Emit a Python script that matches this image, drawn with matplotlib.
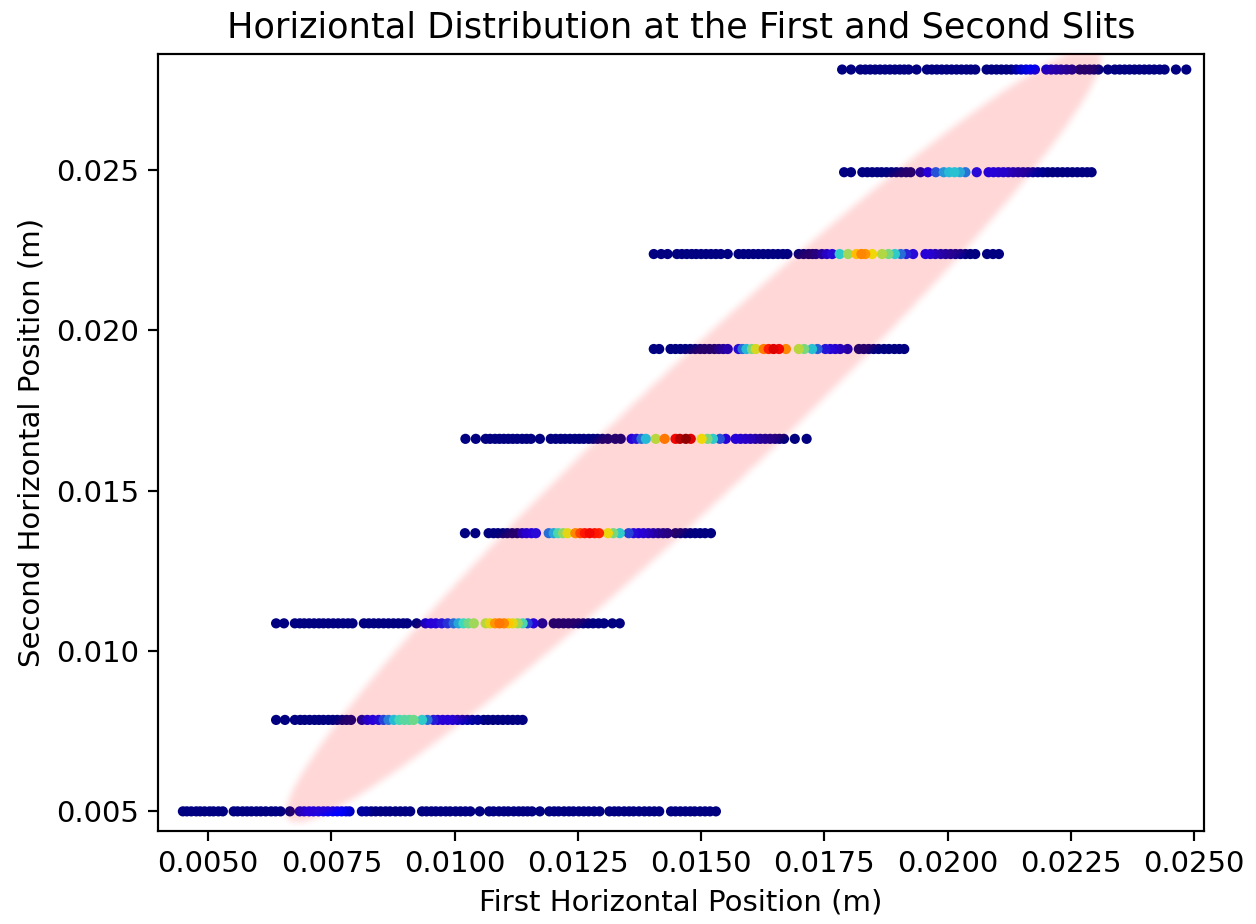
import numpy as np
import matplotlib.pyplot as plt
from matplotlib.ticker import FormatStrFormatter

# second-slit positions (m), one row of samples per position
row_y = [0.00500, 0.00785, 0.01086, 0.01367, 0.01661, 0.01941, 0.02237, 0.02492, 0.02812]

# first-slit positions (mm) of samples with ~zero weight
navy_x = [
    [4.49, 4.57, 4.66, 4.76, 4.84, 4.93, 5.03, 5.11, 5.21, 5.30,
     5.52, 5.60, 5.70, 5.79, 5.88, 5.98, 6.07, 6.17, 6.28, 6.37, 6.47, 6.66,
     8.31, 8.40, 8.50, 8.60, 8.69, 8.80, 8.90, 9.00, 9.10,
     9.34, 9.43, 9.53, 9.62, 9.72, 9.82, 9.91, 10.02, 10.12, 10.22, 10.32,
     10.51, 10.70, 10.79, 10.90, 11.00, 11.09, 11.20, 11.30, 11.39, 11.48, 11.57, 11.73,
     11.92, 12.02, 12.11, 12.22, 12.32, 12.41, 12.52, 12.62, 12.72, 12.83, 12.94,
     13.14, 13.24, 13.33, 13.44, 13.54, 13.63, 13.74, 13.85, 13.95, 14.05, 14.15,
     14.39, 14.48, 14.58, 14.68, 14.78, 14.87, 14.98, 15.08, 15.18, 15.30],
    [6.38, 6.56, 6.76, 6.87, 6.96, 7.06, 7.16, 7.25, 7.34, 7.44, 7.53, 7.62, 7.72, 7.81, 7.90,
     10.59, 10.68, 10.78, 10.88, 10.98, 11.08, 11.18, 11.28, 11.38],
    [6.38, 6.54, 6.76, 6.86, 6.95, 7.05, 7.15, 7.25, 7.34, 7.44, 7.54, 7.64, 7.74, 7.84, 7.93,
     8.16, 8.26, 8.36, 8.46, 8.56, 8.66, 8.76, 8.86, 8.96, 9.04, 9.23,
     12.01, 12.11, 12.21, 12.31, 12.41, 12.51, 12.61, 12.71, 12.81, 12.92, 13.03, 13.20, 13.35],
    [10.21, 10.42, 10.69, 10.79, 10.88, 10.98, 11.07, 11.17, 11.27,
     14.48, 14.58, 14.68, 14.78, 14.88, 14.98, 15.08, 15.20],
    [10.22, 10.43, 10.63, 10.72, 10.82, 10.91, 11.00, 11.09, 11.18, 11.27, 11.37, 11.46, 11.55, 11.73,
     11.95, 12.05, 12.15, 12.24, 12.34, 12.44, 12.53, 12.62, 12.72, 12.81, 12.90, 13.00, 13.11,
     13.26, 13.37, 16.59, 16.68, 16.90, 17.14],
    [14.04, 14.15, 14.38, 14.48, 14.58, 14.68, 14.78, 14.88, 14.98, 15.07, 15.17, 15.27,
     18.20, 18.30, 18.40, 18.50, 18.60, 18.71, 18.81, 18.92, 19.02, 19.12],
    [14.04, 14.19, 14.32, 14.51, 14.61, 14.71, 14.81, 14.90, 15.00, 15.10, 15.20, 15.30, 15.40, 15.54,
     15.76, 15.86, 15.96, 16.06, 16.16, 16.26, 16.36, 16.46, 16.56, 16.66, 16.75,
     16.98, 17.08, 17.18, 17.26, 20.36, 20.46, 20.56, 20.80, 20.92, 21.04],
    [17.90, 18.04, 18.27, 18.37, 18.47, 18.57, 18.66, 18.76, 18.86, 18.96, 19.06, 19.16, 19.25,
     22.03, 22.13, 22.23, 22.33, 22.43, 22.53, 22.63, 22.73, 22.83, 22.92],
    [17.86, 18.04, 18.23, 18.33, 18.43, 18.53, 18.63, 18.73, 18.83, 18.93, 19.03, 19.12, 19.21, 19.37,
     19.58, 19.68, 19.78, 19.88, 19.98, 20.08, 20.18, 20.28, 20.38, 20.47, 20.56,
     20.79, 20.89, 20.99, 21.09, 21.19, 21.29,
     22.68, 22.78, 22.88, 22.97, 23.06, 23.25,
     23.39, 23.49, 23.59, 23.69, 23.79, 23.89, 23.99, 24.09, 24.19, 24.30, 24.40, 24.63, 24.84],
]

# first-slit positions (mm) and normalised weights of the brighter samples
hot_x = [
    [6.86, 6.95, 7.05, 7.14, 7.24, 7.34, 7.43, 7.53, 7.62, 7.71, 7.80, 7.87, 8.12, 8.21],
    [8.12, 8.23, 8.34, 8.46, 8.56, 8.66, 8.77, 8.88, 8.98, 9.08, 9.17, 9.34, 9.45,
     9.57, 9.66, 9.76, 9.86, 9.96, 10.06, 10.16, 10.26, 10.36, 10.47],
    [9.41, 9.52, 9.62, 9.74, 9.86, 9.98, 10.08, 10.18, 10.28, 10.39,
     10.63, 10.72, 10.82, 10.91, 11.00, 11.09, 11.18, 11.28, 11.38, 11.48, 11.60, 11.78],
    [11.37, 11.46, 11.56, 11.65, 11.91, 12.01, 12.10, 12.20, 12.29,
     12.45, 12.55, 12.64, 12.74, 12.84, 12.93, 13.11, 13.22, 13.35,
     13.53, 13.63, 13.73, 13.83, 13.93, 14.03, 14.13, 14.23, 14.32],
    [13.59, 13.69, 13.79, 13.88, 14.08, 14.26, 14.48, 14.57, 14.69, 14.79,
     15.01, 15.13, 15.24, 15.38, 15.50, 15.70, 15.80, 15.90, 16.00, 16.10, 16.20, 16.30, 16.40, 16.50],
    [15.36, 15.45, 15.54, 15.76, 15.84, 15.92, 16.03, 16.11, 16.27, 16.37, 16.47, 16.58, 16.72,
     16.98, 17.09, 17.25, 17.36, 17.52, 17.62, 17.72, 17.82, 17.97],
    [17.33, 17.45, 17.55, 17.66, 17.81, 17.98, 18.15, 18.25, 18.33, 18.47, 18.67, 18.80,
     18.93, 19.05, 19.16, 19.30, 19.55, 19.65, 19.75, 19.86, 19.96, 20.06, 20.16, 20.26],
    [19.45, 19.60, 19.76, 19.92, 20.03, 20.14, 20.25, 20.36, 20.59, 20.83, 20.93,
     21.03, 21.13, 21.23, 21.33, 21.43, 21.53, 21.63, 21.73, 21.83, 21.93],
    [21.39, 21.49, 21.59, 21.68, 21.77, 22.00, 22.10, 22.20, 22.30, 22.41, 22.52],
]
hot_w = [
    [0.07, 0.09, 0.11, 0.12, 0.13, 0.13, 0.13, 0.12, 0.12, 0.10, 0.08, 0.06, 0.03, 0.02],
    [0.04, 0.09, 0.12, 0.14, 0.20, 0.27, 0.34, 0.39, 0.42, 0.42, 0.45, 0.36, 0.26,
     0.16, 0.13, 0.12, 0.11, 0.10, 0.08, 0.06, 0.04, 0.03, 0.02],
    [0.08, 0.11, 0.13, 0.15, 0.18, 0.25, 0.32, 0.38, 0.45, 0.52,
     0.56, 0.62, 0.72, 0.76, 0.74, 0.66, 0.62, 0.52, 0.40, 0.20, 0.13, 0.04],
    [0.07, 0.10, 0.12, 0.14, 0.25, 0.32, 0.40, 0.50, 0.62,
     0.74, 0.82, 0.88, 0.90, 0.88, 0.86, 0.63, 0.47, 0.36,
     0.20, 0.14, 0.12, 0.10, 0.08, 0.06, 0.04, 0.03, 0.02],
    [0.12, 0.15, 0.25, 0.34, 0.56, 0.76, 0.90, 0.96, 1.00, 0.92,
     0.64, 0.47, 0.36, 0.22, 0.13, 0.12, 0.10, 0.09, 0.08, 0.06, 0.05, 0.04, 0.03, 0.02],
    [0.03, 0.05, 0.07, 0.14, 0.25, 0.34, 0.47, 0.60, 0.75, 0.87, 0.92, 0.90, 0.74,
     0.56, 0.47, 0.35, 0.24, 0.15, 0.13, 0.10, 0.08, 0.06],
    [0.02, 0.05, 0.09, 0.14, 0.36, 0.52, 0.67, 0.74, 0.72, 0.64, 0.55, 0.47,
     0.36, 0.25, 0.17, 0.14, 0.12, 0.10, 0.08, 0.06, 0.05, 0.04, 0.03, 0.02],
    [0.05, 0.12, 0.22, 0.30, 0.34, 0.35, 0.32, 0.26, 0.14, 0.12, 0.12,
     0.10, 0.10, 0.08, 0.07, 0.06, 0.05, 0.04, 0.03, 0.02, 0.01],
    [0.03, 0.06, 0.08, 0.09, 0.10, 0.08, 0.07, 0.06, 0.05, 0.04, 0.03],
]

# acceptance ellipse: lower tip, upper tip (m) and horizontal half-width (m)
band_lo = (0.00680, 0.00465)
band_hi = (0.02290, 0.02880)
band_half_width = 0.00188

x_ticks = [0.0050, 0.0075, 0.0100, 0.0125, 0.0150, 0.0175, 0.0200, 0.0225, 0.0250]
y_ticks = [0.005, 0.010, 0.015, 0.020, 0.025]
xlim = (0.00399, 0.02519)
ylim = (0.004398, 0.028619)

plt.rcParams['font.size'] = 10.7

fig = plt.figure(figsize=(6.4, 4.705), dpi=196.4)
ax = fig.add_axes([0.1259, 0.1010, 0.8316, 0.8410])

for y, xs_n, xs_h, ws_h in zip(row_y, navy_x, hot_x, hot_w):
    xs = np.array(xs_n + xs_h) * 1e-3
    ws = np.array([0.0] * len(xs_n) + ws_h)
    order = np.argsort(ws, kind='stable')
    ax.scatter(xs[order], np.full(len(xs), y), c=ws[order], cmap='jet',
               vmin=0, vmax=1, s=14, linewidths=0, zorder=2)

# soft-edged ellipse laid over the samples
gx = np.linspace(xlim[0], xlim[1], 1046)
gy = np.linspace(ylim[0], ylim[1], 777)
X, Y = np.meshgrid(gx, gy)
(xa, ya), (xb, yb) = band_lo, band_hi
yc = (ya + yb) / 2
hh = (yb - ya) / 2
centre = (xa + xb) / 2 + (Y - yc) * (xb - xa) / (yb - ya)
inside = ((Y - yc) / hh) ** 2 + ((X - centre) / band_half_width) ** 2 <= 1
mask = inside.astype(float)
k = np.arange(-10, 11)
kern = np.exp(-0.5 * (k / 3.5) ** 2)
kern /= kern.sum()
mask = np.apply_along_axis(np.convolve, 0, mask, kern, mode='same')
mask = np.apply_along_axis(np.convolve, 1, mask, kern, mode='same')
rgba = np.zeros(mask.shape + (4,))
rgba[..., 0] = 1.0
rgba[..., 3] = 0.16 * mask
ax.imshow(rgba, extent=(xlim[0], xlim[1], ylim[0], ylim[1]), origin='lower',
          aspect='auto', interpolation='bilinear', zorder=3)

ax.set_xlim(*xlim)
ax.set_ylim(*ylim)
ax.set_xticks(x_ticks)
ax.set_yticks(y_ticks)
ax.xaxis.set_major_formatter(FormatStrFormatter('%.4f'))
ax.yaxis.set_major_formatter(FormatStrFormatter('%.3f'))

ax.set_title('Horiziontal Distribution at the First and Second Slits', fontsize=12.9)
ax.set_xlabel('First Horizontal Position (m)')
ax.set_ylabel('Second Horizontal Position (m)')

fig.savefig('out.png', dpi=196.4)
